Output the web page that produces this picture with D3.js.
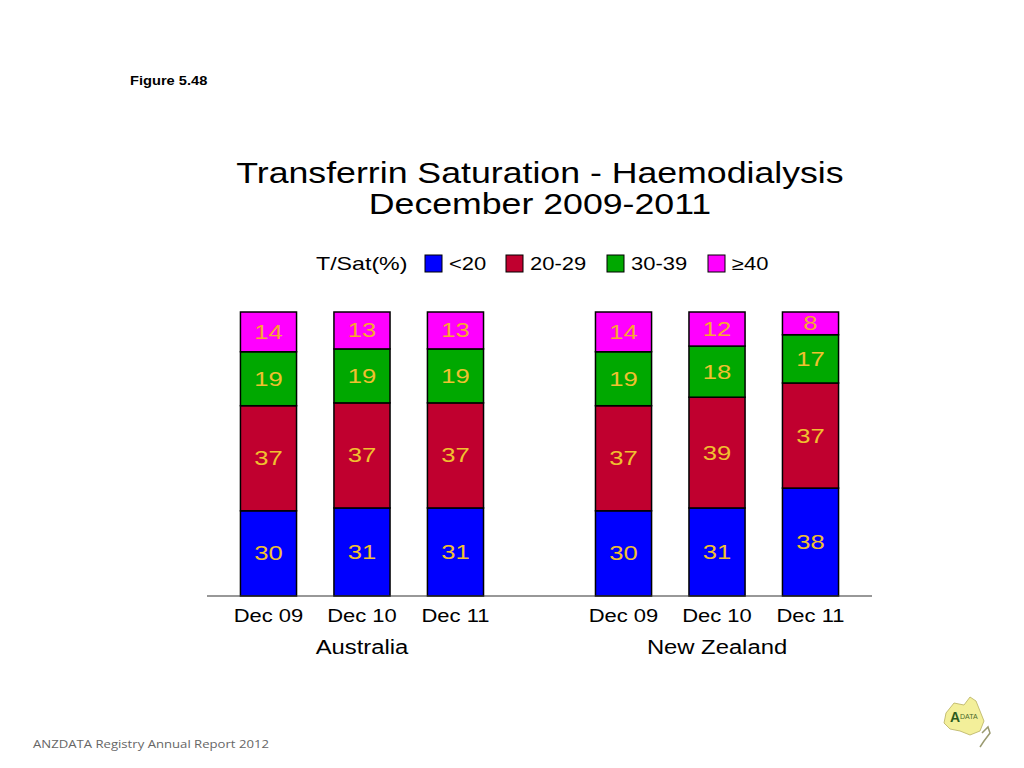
<!DOCTYPE html>
<html>
<head>
<meta charset="utf-8">
<script src="https://cdn.jsdelivr.net/npm/d3@7"></script>
<style>
  body { margin: 0; background: #fff; }
  svg text { font-family: "Liberation Sans", Arial, sans-serif; }
</style>
</head>
<body>
<div id="chart"></div>
<script>
  // data
  const countries = ["Australia", "New Zealand"];
  const years = ["Dec 09", "Dec 10", "Dec 11"];
  const categories = ["<20", "20-29", "30-39", "\u226540"];
  const colors = ["#0000ff", "#c0002f", "#00a800", "#ff00ff"];

  // percentages per bar, in order country x year
  const lt20 =   [30, 31, 31, 30, 31, 38];
  const c20_29 = [37, 37, 37, 37, 39, 37];
  const c30_39 = [19, 19, 19, 19, 18, 17];
  const ge40 =   [14, 13, 13, 14, 12, 8];

  const series = [lt20, c20_29, c30_39, ge40];

  // config
  const width = 1024;
  const height = 768;
  const stretchX = 1.22; // the source slide is a bit wider than tall text

  const svg = d3.select("#chart")
    .append("svg")
    .attr("width", width)
    .attr("height", height);

  // widen text horizontally like the reference
  function widen(sel, k) {
    sel.each(function () {
      const w = this.getComputedTextLength();
      d3.select(this)
        .attr("textLength", w * (k || stretchX))
        .attr("lengthAdjust", "spacingAndGlyphs");
    });
  }

  // rows for the stack
  const rows = [];
  countries.forEach((c, ci) => {
    years.forEach((y, yi) => {
      const idx = ci * years.length + yi;
      const row = { country: c, year: y };
      categories.forEach((k, ki) => { row[k] = series[ki][idx]; });
      rows.push(row);
    });
  });

  const stacked = d3.stack().keys(categories)(rows);

  // scales
  const xGroup = d3.scaleBand()
    .domain(countries)
    .range([221.75, 857.25])
    .paddingInner(0.21);

  const xYear = d3.scaleBand()
    .domain(years)
    .range([0, xGroup.bandwidth()])
    .paddingInner(0.4)
    .paddingOuter(0.2);

  const y = d3.scaleLinear()
    .domain([0, 100])
    .range([596, 312]);

  const barX = (d) => xGroup(d.data.country) + xYear(d.data.year);

  // bars
  const layers = svg.selectAll("g.layer")
    .data(stacked)
    .enter()
    .append("g")
    .attr("class", "layer")
    .attr("fill", (d, i) => colors[i]);

  layers.selectAll("rect")
    .data((d) => d)
    .enter()
    .append("rect")
    .attr("x", barX)
    .attr("y", (d) => y(d[1]))
    .attr("width", xYear.bandwidth())
    .attr("height", (d) => y(d[0]) - y(d[1]))
    .attr("stroke", "#000")
    .attr("stroke-width", 1.5);

  // value labels
  layers.selectAll("text")
    .data((d) => d.map((p) => ({ p: p, key: d.key })))
    .enter()
    .append("text")
    .attr("x", (d) => barX(d.p) + xYear.bandwidth() / 2)
    .attr("y", (d) => (y(d.p[0]) + y(d.p[1])) / 2 + 7)
    .attr("text-anchor", "middle")
    .attr("font-size", 21)
    .attr("fill", (d) => d.key === "\u226540" ? "#f7a830" : "#f0c030")
    .text((d) => d.p.data[d.key])
    .call(widen);

  // axis baseline
  svg.append("line")
    .attr("x1", 207)
    .attr("x2", 872)
    .attr("y1", y(0))
    .attr("y2", y(0))
    .attr("stroke", "#333")
    .attr("stroke-width", 1.2);

  // year labels
  svg.selectAll("text.year")
    .data(rows)
    .enter()
    .append("text")
    .attr("class", "year")
    .attr("x", (r) => xGroup(r.country) + xYear(r.year) + xYear.bandwidth() / 2)
    .attr("y", 622)
    .attr("text-anchor", "middle")
    .attr("font-size", 18)
    .attr("fill", "#000")
    .text((r) => r.year)
    .call(widen);

  // country labels
  svg.selectAll("text.country")
    .data(countries)
    .enter()
    .append("text")
    .attr("class", "country")
    .attr("x", (d) => xGroup(d) + xGroup.bandwidth() / 2)
    .attr("y", 654)
    .attr("text-anchor", "middle")
    .attr("font-size", 20)
    .attr("fill", "#000")
    .text((d) => d)
    .call(widen, 1.19);

  // title
  svg.append("text")
    .attr("x", 540)
    .attr("y", 183)
    .attr("text-anchor", "middle")
    .attr("font-size", 29)
    .text("Transferrin Saturation - Haemodialysis")
    .call(widen, 1.23);

  svg.append("text")
    .attr("x", 540)
    .attr("y", 214)
    .attr("text-anchor", "middle")
    .attr("font-size", 29)
    .text("December 2009-2011")
    .call(widen, 1.23);

  // legend
  svg.append("text")
    .attr("x", 316)
    .attr("y", 270)
    .attr("font-size", 19)
    .text("T/Sat(%)")
    .call(widen);

  const legendX = [425, 506, 607, 708];

  const legend = svg.selectAll("g.legend")
    .data(categories)
    .enter()
    .append("g")
    .attr("class", "legend")
    .attr("transform", (d, i) => `translate(${legendX[i]},255)`);

  legend.append("rect")
    .attr("width", 17)
    .attr("height", 17)
    .attr("fill", (d, i) => colors[i])
    .attr("stroke", "#000")
    .attr("stroke-width", 1);

  legend.append("text")
    .attr("x", 24)
    .attr("y", 15)
    .attr("font-size", 18)
    .text((d) => d)
    .call(widen);

  // header & footer
  svg.append("text")
    .attr("x", 130)
    .attr("y", 85)
    .attr("font-size", 12)
    .attr("font-weight", "bold")
    .text("Figure 5.48")
    .call(widen);

  svg.append("text")
    .attr("x", 33)
    .attr("y", 748)
    .attr("font-size", 10.5)
    .attr("fill", "#666")
    .style("font-family", "'Open Sans', sans-serif")
    .text("ANZDATA Registry Annual Report 2012")
    .call(widen, 1.25);

  // logo (rough)
  const logo = svg.append("g").attr("transform", "translate(940,695)");
  logo.append("path")
    .attr("d", "M6,18 L14,8 L24,10 L30,2 L36,6 L40,16 L44,26 L40,36 L30,40 L20,36 L10,34 L4,28 Z")
    .attr("fill", "#f3ef9a")
    .attr("stroke", "#b8b060")
    .attr("stroke-width", 0.8);
  logo.append("path")
    .attr("d", "M42,38 L48,32 L50,38 L44,46 L40,52")
    .attr("fill", "none")
    .attr("stroke", "#9a9a70")
    .attr("stroke-width", 1.5);
  logo.append("text")
    .attr("x", 10)
    .attr("y", 27)
    .attr("font-size", 14)
    .attr("font-weight", "bold")
    .attr("fill", "#2d5a1e")
    .text("A");
  logo.append("text")
    .attr("x", 20)
    .attr("y", 24)
    .attr("font-size", 7)
    .attr("fill", "#4a6a2a")
    .text("DATA");
</script>
</body>
</html>
